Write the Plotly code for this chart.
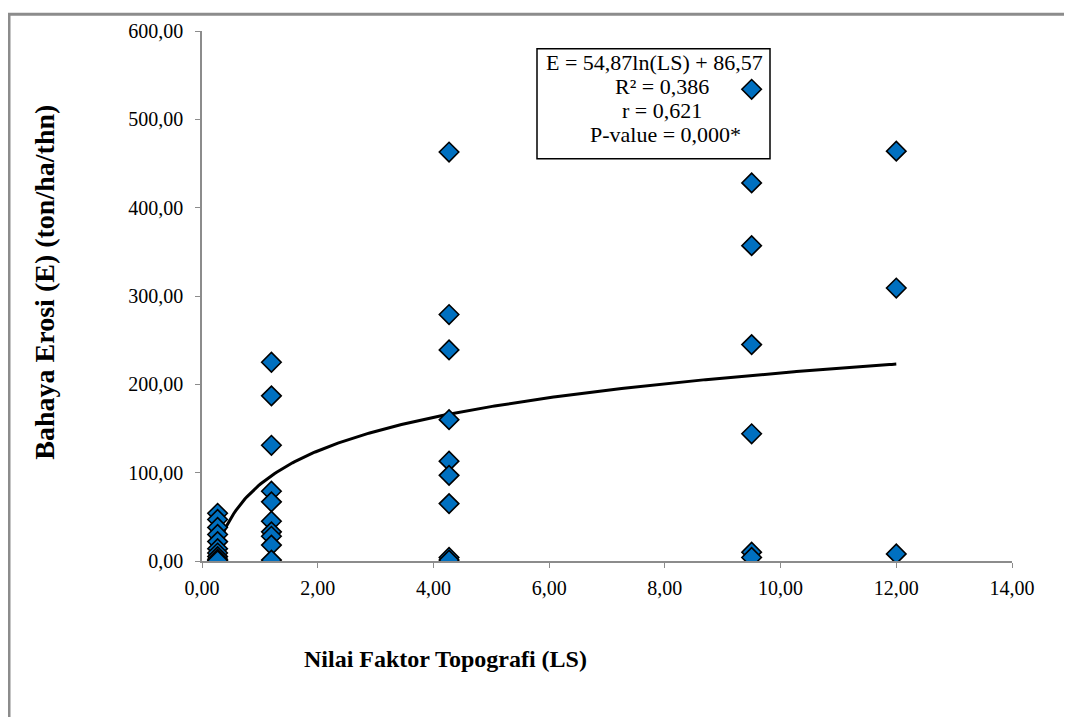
import numpy as np
import plotly.graph_objects as go

# ---- data ----
ls_a = [0.27] * 10
e_a = [54, 47, 38, 30, 22, 14, 9, 5, 2, 0.5]
ls_b = [1.2] * 10
e_b = [225, 187, 131, 79, 67, 45, 33, 28, 18, 1]
ls_c = [4.27] * 9
e_c = [463, 279, 239, 160, 113, 97, 65, 4, 1]
ls_d = [9.5] * 7
e_d = [534, 428, 357, 245, 144, 10, 4]
ls_e = [12.0] * 3
e_e = [464, 309, 8]

ls_all = ls_a + ls_b + ls_c + ls_d + ls_e
e_all = e_a + e_b + e_c + e_d + e_e

# regression (from the chart's equation)
coef_a = 54.87
coef_b = 86.57
trend_x = np.linspace(0.27, 12.0, 300)
trend_y = coef_a * np.log(trend_x) + coef_b

x_ticks = [0, 2, 4, 6, 8, 10, 12, 14]
y_ticks = [0, 100, 200, 300, 400, 500, 600]
stats_lines = ["E = 54,87ln(LS) + 86,57", "R² = 0,386", "r = 0,621", "P-value = 0,000*"]

FONT = "Liberation Serif, Times New Roman, serif"

# page offset (body margin) and plot area in screenshot pixels
OFF = 8
L, R, T, B = 202, 1012, 26, 561
W, H = 1072, 717
PW, PH = R - L, B - T


def px(x):
    return (x - L) / PW


def py(y):
    return (B - y) / PH


fig = go.Figure()
fig.add_trace(go.Scatter(
    x=trend_x, y=trend_y, mode="lines",
    line=dict(color="black", width=3), hoverinfo="skip", showlegend=False))
fig.add_trace(go.Scatter(
    x=ls_all, y=e_all, mode="markers",
    marker=dict(symbol="diamond", size=15, color="#0070C0",
                line=dict(color="black", width=1.6)),
    showlegend=False))

axis_common = dict(
    showgrid=False, zeroline=False, showline=True, linecolor="#8c8c8c",
    linewidth=1.5, ticks="outside", ticklen=5, tickcolor="#8c8c8c",
    tickfont=dict(family=FONT, size=20, color="black"), tickformat=".2f")

fig.update_xaxes(range=[0, 14], tickvals=x_ticks, ticklabelstandoff=3, **axis_common)
fig.update_yaxes(range=[0, 600], tickvals=y_ticks, ticklabelstandoff=8, **axis_common)

annotations = [
    dict(text="<b>Nilai Faktor Topografi (LS)</b>", x=px(445), y=py(660),
         xref="paper", yref="paper", showarrow=False, xanchor="center", yanchor="middle",
         font=dict(family=FONT, size=24, color="black")),
    dict(text="<b>Bahaya Erosi (E) (ton/ha/thn)</b>", x=px(45), y=py(280),
         xref="paper", yref="paper", showarrow=False, textangle=-90,
         xanchor="center", yanchor="middle",
         font=dict(family=FONT, size=28, color="black")),
]
line_pos = [(654, 57.5), (662, 82), (662, 106), (665, 130.5)]
for txt, (lx, ly) in zip(stats_lines, line_pos):
    annotations.append(dict(text=txt, x=px(lx), y=py(ly), xref="paper", yref="paper",
                            showarrow=False, xanchor="center", yanchor="middle",
                            font=dict(family=FONT, size=22, color="black")))

shapes = [
    # stats box
    dict(type="rect", xref="paper", yref="paper",
         x0=px(537), x1=px(770), y0=py(155), y1=py(44),
         line=dict(color="black", width=1.5), fillcolor="rgba(0,0,0,0)", layer="above"),
    # outer chart frame
    dict(type="rect", xref="paper", yref="paper",
         x0=px(OFF + 1), x1=px(1100), y0=py(760), y1=py(OFF + 1),
         line=dict(color="#8c8c8c", width=3), fillcolor="rgba(0,0,0,0)"),
]

fig.update_layout(
    width=W, height=H,
    margin=dict(l=L - OFF, r=W - R + OFF, t=T - OFF, b=H - B + OFF),
    paper_bgcolor="white", plot_bgcolor="white",
    separators=",.",
    annotations=annotations, shapes=shapes,
    font=dict(family=FONT, color="black"),
)

fig.write_html("out.html")
